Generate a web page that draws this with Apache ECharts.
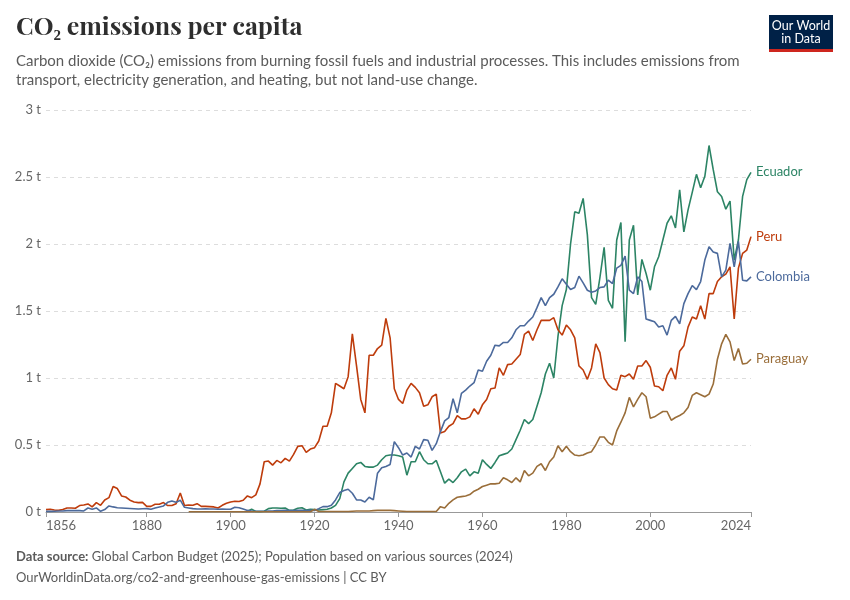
<!DOCTYPE html>
<html>

<head>
    <meta charset="utf-8">
    <script src="https://cdn.jsdelivr.net/npm/echarts@6/dist/echarts.min.js"></script>
    <style>
        html, body { margin: 0; padding: 0; background: #fff; }
        #main { width: 850px; height: 600px; }
    </style>
</head>

<body>
    <div id="main"></div>
    <script type="text/javascript">

        // years on the axis and the ones that get a label
        var firstYear = 1856;
        var lastYear = 2024;
        var labelYears = [1856, 1880, 1900, 1920, 1940, 1960, 1980, 2000, 2024];
        var yTicks = [0, 0.5, 1, 1.5, 2, 2.5, 3];

        // tonnes of CO2 per person, one value per year from the start year
        var peruStart = 1856;
        var peru = [
            0.018, 0.02, 0.015, 0.012,
            0.018, 0.03, 0.03, 0.028, 0.048, 0.052, 0.06, 0.038, 0.07, 0.05,
            0.09, 0.107, 0.19, 0.175, 0.12, 0.112, 0.088, 0.075, 0.07, 0.072,
            0.042, 0.042, 0.058, 0.058, 0.07, 0.048, 0.048, 0.062, 0.142, 0.048,
            0.052, 0.05, 0.062, 0.042, 0.042, 0.04, 0.038, 0.03, 0.05, 0.065,
            0.075, 0.08, 0.078, 0.088, 0.12, 0.107, 0.128, 0.21, 0.375, 0.38,
            0.35, 0.385, 0.367, 0.4, 0.38, 0.43, 0.49, 0.495, 0.445, 0.47,
            0.48, 0.53, 0.64, 0.64, 0.74, 0.96, 0.94, 0.92, 1.01, 1.33,
            1.09, 0.84, 0.74, 1.17, 1.17, 1.22, 1.245, 1.445, 1.3, 0.92,
            0.84, 0.81, 0.91, 0.96, 0.93, 0.89, 0.79, 0.8, 0.86, 0.88,
            0.59, 0.6, 0.64, 0.66, 0.72, 0.695, 0.695, 0.71, 0.77, 0.73,
            0.8, 0.84, 0.92, 0.925, 1.075, 1.02, 1.1, 1.105, 1.14, 1.175,
            1.325, 1.35, 1.28, 1.36, 1.43, 1.43, 1.43, 1.45, 1.36, 1.32,
            1.395, 1.36, 1.3, 1.09, 1.06, 0.99, 1.075, 1.255, 1.19, 1.0,
            0.95, 0.92, 0.91, 1.02, 1.01, 1.03, 0.99, 1.09, 1.09, 1.13,
            1.08, 0.94, 0.935, 0.905, 1.02, 1.075, 0.99, 1.2, 1.24, 1.38,
            1.455, 1.44, 1.54, 1.44, 1.63, 1.63, 1.72, 1.755, 1.775, 1.83,
            1.44, 1.82, 1.93, 1.955, 2.055
        ];

        var colombiaStart = 1856;
        var colombia = [
            0.005, 0.005, 0.006, 0.007,
            0.008, 0.01, 0.01, 0.01, 0.01, 0.008, 0.03, 0.02, 0.03, 0.005,
            0.018, 0.045, 0.038, 0.032, 0.03, 0.028, 0.026, 0.024, 0.022, 0.024,
            0.025, 0.02, 0.03, 0.038, 0.045, 0.072, 0.082, 0.072, 0.088, 0.035,
            0.03, 0.025, 0.022, 0.022, 0.024, 0.022, 0.022, 0.02, 0.022, 0.02,
            0.02, 0.035, 0.032, 0.022, 0.012, 0.008, 0.006, 0.006, 0.006, 0.008,
            0.008, 0.01, 0.01, 0.012, 0.01, 0.01, 0.012, 0.012, 0.01, 0.012,
            0.012, 0.025, 0.04, 0.04, 0.05, 0.09, 0.145, 0.16, 0.17, 0.14,
            0.09, 0.09, 0.075, 0.11, 0.09, 0.29, 0.33, 0.34, 0.355, 0.525,
            0.48, 0.425, 0.44, 0.41, 0.49, 0.47, 0.54, 0.535, 0.46, 0.51,
            0.6, 0.68, 0.705, 0.845, 0.74, 0.885, 0.91, 0.94, 0.965, 1.06,
            1.05, 1.125, 1.17, 1.245, 1.24, 1.265, 1.265, 1.3, 1.36, 1.39,
            1.39, 1.425, 1.455, 1.525, 1.6, 1.54, 1.6, 1.625, 1.68, 1.74,
            1.7, 1.66, 1.675, 1.76, 1.71, 1.655, 1.64, 1.65, 1.675, 1.68,
            1.73, 1.705, 1.82, 1.84, 1.91, 1.655, 1.63, 1.755, 1.72, 1.44,
            1.43, 1.42, 1.38, 1.39, 1.32, 1.43, 1.46, 1.405, 1.555, 1.63,
            1.69, 1.66, 1.72, 1.88, 1.98, 1.94, 1.93, 1.755, 1.805, 2.005,
            1.83, 2.02, 1.73, 1.725, 1.755
        ];

        var ecuadorStart = 1904;
        var ecuador = [
            0.005, 0.02, 0.004, 0.003, 0.006, 0.025,
            0.03, 0.03, 0.028, 0.03, 0.012, 0.015, 0.028, 0.032, 0.015, 0.02,
            0.018, 0.015, 0.018, 0.02, 0.03, 0.05, 0.1, 0.225, 0.29, 0.325,
            0.36, 0.37, 0.34, 0.335, 0.335, 0.35, 0.39, 0.42, 0.425, 0.425,
            0.42, 0.41, 0.275, 0.375, 0.375, 0.45, 0.39, 0.36, 0.36, 0.385,
            0.3, 0.215, 0.245, 0.22, 0.255, 0.3, 0.32, 0.27, 0.3, 0.29,
            0.39, 0.355, 0.325, 0.37, 0.42, 0.43, 0.44, 0.47, 0.54, 0.61,
            0.69, 0.66, 0.69, 0.79, 0.89, 1.03, 1.11, 1.0, 1.31, 1.54,
            1.66, 2.0, 2.24, 2.23, 2.34, 2.07, 1.6, 1.55, 1.75, 1.975,
            1.58, 1.52, 2.03, 2.16, 1.27, 2.03, 2.14, 1.62, 1.885, 1.78,
            1.655, 1.83, 1.905, 2.03, 2.155, 2.21, 2.12, 2.405, 2.09, 2.255,
            2.385, 2.52, 2.42, 2.505, 2.735, 2.555, 2.39, 2.355, 2.26, 2.32,
            1.88, 2.03, 2.355, 2.48, 2.535
        ];

        var paraguayStart = 1890;
        var paraguay = [
            0.002, 0.002, 0.002, 0.002, 0.002, 0.002, 0.002, 0.002, 0.002, 0.002,
            0.002, 0.002, 0.002, 0.002, 0.002, 0.002, 0.002, 0.002, 0.002, 0.002,
            0.002, 0.002, 0.002, 0.002, 0.002, 0.002, 0.002, 0.002, 0.002, 0.002,
            0.02, 0.004, 0.004, 0.004, 0.004, 0.004, 0.004, 0.004, 0.004, 0.006,
            0.007, 0.007, 0.008, 0.008, 0.01, 0.012, 0.012, 0.012, 0.012, 0.01,
            0.008, 0.006, 0.004, 0.004, 0.004, 0.004, 0.004, 0.004, 0.004, 0.004,
            0.04, 0.03, 0.065, 0.09, 0.11, 0.115, 0.12, 0.13, 0.155, 0.17,
            0.19, 0.2, 0.21, 0.21, 0.215, 0.255, 0.24, 0.22, 0.255, 0.225,
            0.31, 0.27, 0.29, 0.34, 0.36, 0.31, 0.375, 0.41, 0.495, 0.45,
            0.49, 0.45, 0.425, 0.42, 0.425, 0.44, 0.45, 0.5, 0.56, 0.56,
            0.52, 0.5, 0.605, 0.67, 0.74, 0.855, 0.785, 0.84, 0.89, 0.86,
            0.7, 0.71, 0.73, 0.75, 0.75, 0.685, 0.705, 0.72, 0.74, 0.78,
            0.87, 0.89, 0.875, 0.86, 0.88, 0.955, 1.14, 1.255, 1.325, 1.27,
            1.13, 1.22, 1.105, 1.11, 1.14
        ];

        var years = [];
        for (var y = firstYear; y <= lastYear; y++) years.push(String(y));

        // put a country's values on the shared year axis, null before it starts
        function onAxis(start, values) {
            return years.map(function (yr) {
                var i = Number(yr) - start;
                return i >= 0 && i < values.length ? values[i] : null;
            });
        }

        function showYear(index, value) {
            return labelYears.indexOf(Number(value)) !== -1;
        }

        var font = "Lato, 'Noto Sans', 'DejaVu Sans', sans-serif";
        var countries = [
            { name: 'Ecuador', color: '#2c8465', start: ecuadorStart, values: ecuador },
            { name: 'Peru', color: '#be3c0c', start: peruStart, values: peru },
            { name: 'Colombia', color: '#4c6a9c', start: colombiaStart, values: colombia },
            { name: 'Paraguay', color: '#9a6e3a', start: paraguayStart, values: paraguay }
        ];

        var myChart = echarts.init(document.getElementById('main'));

        myChart.setOption({
            animation: false,
            backgroundColor: '#fff',
            grid: { left: 46, right: 99, top: 110, bottom: 88, containLabel: false },
            xAxis: {
                type: 'category',
                data: years,
                boundaryGap: false,
                axisLine: { lineStyle: { color: '#999', width: 1 } },
                axisTick: { show: true, interval: showYear, length: 5, lineStyle: { color: '#999' } },
                axisLabel: {
                    interval: showYear,
                    color: '#666',
                    fontSize: 13,
                    fontFamily: font,
                    margin: 7,
                    alignMinLabel: 'left',
                    alignMaxLabel: 'right'
                },
                splitLine: { show: false }
            },
            yAxis: {
                type: 'value',
                min: yTicks[0],
                max: yTicks[yTicks.length - 1],
                interval: 0.5,
                axisLine: { show: false },
                axisTick: { show: false },
                axisLabel: {
                    color: '#666',
                    fontSize: 13,
                    fontFamily: font,
                    margin: 5,
                    formatter: function (v) { return v + ' t'; }
                },
                splitLine: { lineStyle: { color: '#ddd', type: [4, 4] } }
            },
            series: countries.map(function (c) {
                return {
                    name: c.name,
                    type: 'line',
                    data: onAxis(c.start, c.values),
                    showSymbol: false,
                    symbol: 'none',
                    connectNulls: false,
                    lineStyle: { color: c.color, width: 1.6 },
                    itemStyle: { color: c.color },
                    emphasis: { disabled: true },
                    endLabel: {
                        show: true,
                        formatter: '{a}',
                        color: c.color,
                        fontSize: 13,
                        fontFamily: font,
                        distance: 5
                    }
                };
            }),
            graphic: [
                {
                    type: 'text', left: 16, top: 15,
                    style: {
                        text: 'CO\u2082 emissions per capita',
                        font: "bold 25px 'Playfair Display', Georgia, 'Liberation Serif', 'DejaVu Serif', serif",
                        fill: '#2e2e2e'
                    }
                },
                {
                    type: 'text', left: 16, top: 52,
                    style: {
                        text: 'Carbon dioxide (CO\u2082) emissions from burning fossil fuels and industrial processes. This includes emissions from\ntransport, electricity generation, and heating, but not land-use change.',
                        font: '15px ' + font,
                        lineHeight: 19,
                        fill: '#5b5b5b'
                    }
                },
                // logo
                { type: 'rect', shape: { x: 769, y: 15, width: 64, height: 34 }, style: { fill: '#002147' } },
                { type: 'rect', shape: { x: 769, y: 49, width: 64, height: 3 }, style: { fill: '#ce261e' } },
                {
                    type: 'text', x: 801, y: 32,
                    style: {
                        text: 'Our World\nin Data',
                        font: '12.5px ' + font,
                        lineHeight: 13,
                        fill: '#fff',
                        align: 'center',
                        verticalAlign: 'middle'
                    }
                },
                {
                    type: 'text', left: 16, top: 550,
                    style: {
                        text: '{b|Data source:} Global Carbon Budget (2025); Population based on various sources (2024)',
                        font: '13px ' + font,
                        fill: '#5b5b5b',
                        rich: { b: { fontWeight: 'bold', fontSize: 13, fontFamily: font, fill: '#5b5b5b' } }
                    }
                },
                {
                    type: 'text', left: 16, top: 571,
                    style: {
                        text: 'OurWorldinData.org/co2-and-greenhouse-gas-emissions | CC BY',
                        font: '13px ' + font,
                        fill: '#5b5b5b'
                    }
                }
            ]
        });

        window.onresize = function () {
            myChart.resize();
        };
    </script>
</body>

</html>
